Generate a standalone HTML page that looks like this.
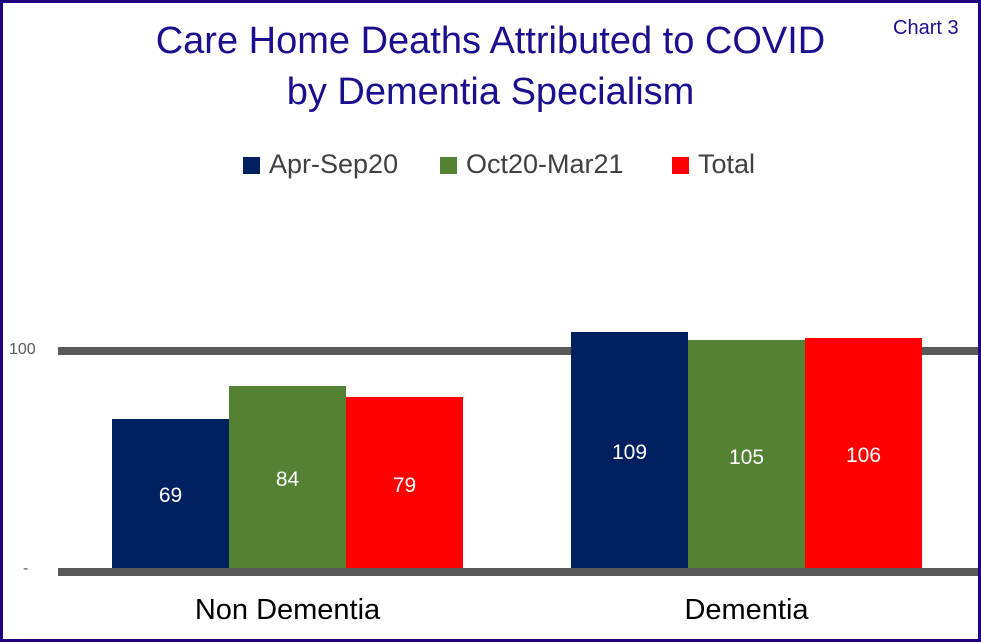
<!DOCTYPE html>
<html><head><meta charset="utf-8"><style>
body{margin:0;width:981px;height:642px;overflow:hidden;background:#fff;font-family:"Liberation Sans",sans-serif;}
.frame{position:absolute;left:0;top:0;width:975px;height:636px;border:3px solid #1f0080;}
.a{position:absolute;}
.t{color:#1a0f8c;font-size:38px;text-align:center;width:981px;left:0;}
.g{background:#595959;height:8px;left:58px;width:920px;}
.bar{position:absolute;width:117px;}
.lbl{position:absolute;width:117px;text-align:center;color:#fff;font-size:21px;}
.leg{font-size:27px;color:#404040;}
.sw{position:absolute;width:17px;height:17px;}
</style></head><body>
<div class="frame"></div>
<div class="a t" style="top:20px;">Care Home Deaths Attributed to COVID</div>
<div class="a t" style="top:71px;">by Dementia Specialism</div>
<div class="a" style="left:893px;top:17px;font-size:20px;color:#1a0f8c;">Chart 3</div>
<div class="sw" style="left:243px;top:157px;background:#002060"></div>
<div class="a leg" style="left:269px;top:149px;">Apr-Sep20</div>
<div class="sw" style="left:440px;top:157px;background:#548235"></div>
<div class="a leg" style="left:466px;top:149px;">Oct20-Mar21</div>
<div class="sw" style="left:672px;top:157px;background:#ff0000"></div>
<div class="a leg" style="left:698px;top:149px;">Total</div>
<div class="a g" style="top:347px;"></div>
<div class="a" style="left:9px;top:341px;font-size:16px;color:#595959;">100</div>
<div class="a" style="left:23px;top:560px;font-size:16px;color:#595959;">-</div>
<div class="bar" style="left:112px;top:419px;height:153px;background:#002060"></div>
<div class="bar" style="left:229px;top:386px;height:186px;background:#548235"></div>
<div class="bar" style="left:346px;top:397px;height:175px;background:#ff0000"></div>
<div class="bar" style="left:571px;top:332px;height:240px;background:#002060"></div>
<div class="bar" style="left:688px;top:340px;height:232px;background:#548235"></div>
<div class="bar" style="left:805px;top:338px;height:234px;background:#ff0000"></div>
<div class="lbl" style="left:112px;top:484px;">69</div>
<div class="lbl" style="left:229px;top:468px;">84</div>
<div class="lbl" style="left:346px;top:474px;">79</div>
<div class="lbl" style="left:571px;top:441px;">109</div>
<div class="lbl" style="left:688px;top:446px;">105</div>
<div class="lbl" style="left:805px;top:444px;">106</div>
<div class="a g" style="top:568px;"></div>
<div class="a" style="left:62px;width:451px;text-align:center;top:594px;font-size:29px;color:#000;">Non Dementia</div>
<div class="a" style="left:521px;width:451px;text-align:center;top:594px;font-size:29px;color:#000;">Dementia</div>
</body></html>
